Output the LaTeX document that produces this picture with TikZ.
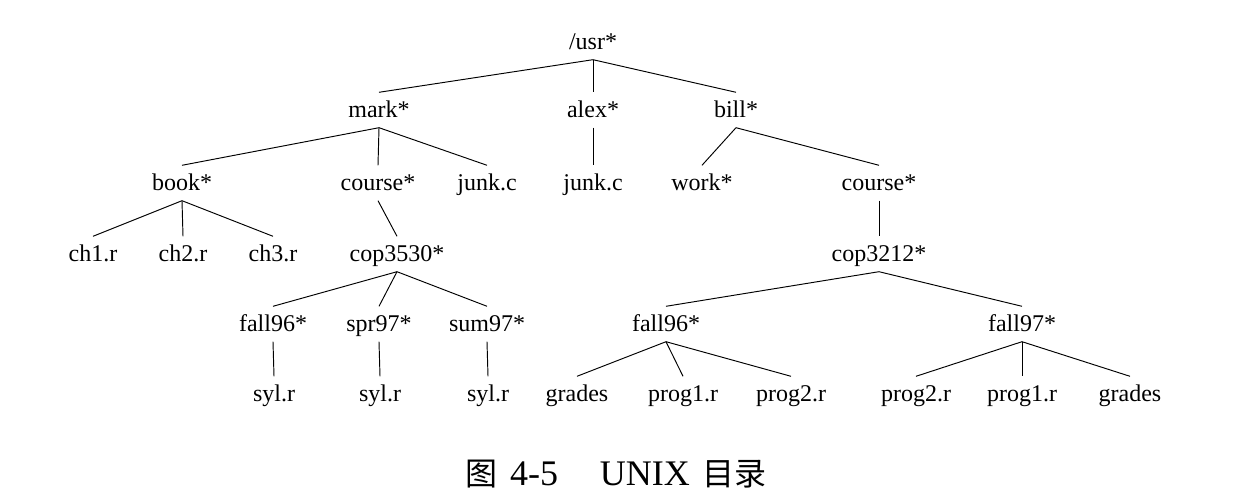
\documentclass[tikz,border=0pt]{standalone}
\usepackage{fontspec}
\setmainfont{Liberation Serif}
\newfontfamily\cjk{Noto Sans CJK SC}
\tikzset{
    dnode/.style={inner sep=0pt,minimum height=35pt,text height=19pt,text depth=3pt,font=\fontsize{24}{28}\selectfont},
    figcap/.style={inner sep=0pt,font=\fontsize{36}{40}\selectfont},
    tree/.style={
        x=1pt, y=-1pt,
        every node/.style=dnode,
        every edge/.style={draw,line width=0.95pt},
    }
}
\begin{document}
\begin{tikzpicture}[tree]
\useasboundingbox (0,0) rectangle (1245,502);
\def\la{42}
\def\lb{110}
\def\lc{183}
\def\ld{254}
\def\le{324}
\def\lf{394}
\node (usr) at (593,\la) {/usr*};
\node (mark) at (379,\lb) {mark*};
\node (alex) at (593,\lb) {alex*};
\node (bill) at (736,\lb) {bill*};
\node (book) at (182,\lc) {book*};
\node (mcourse) at (378,\lc) {course*};
\node (mjunk) at (487,\lc) {junk.c};
\node (ajunk) at (593,\lc) {junk.c};
\node (work) at (702,\lc) {work*};
\node (bcourse) at (879,\lc) {course*};
\node (ch1) at (93,\ld) {ch1.r};
\node (ch2) at (183,\ld) {ch2.r};
\node (ch3) at (273,\ld) {ch3.r};
\node (cop3530) at (397,\ld) {cop3530*};
\node (cop3212) at (879,\ld) {cop3212*};
\node (mfall96) at (273,\le) {fall96*};
\node (spr97) at (379,\le) {spr97*};
\node (sum97) at (487,\le) {sum97*};
\node (bfall96) at (666,\le) {fall96*};
\node (fall97) at (1022,\le) {fall97*};
\node (syla) at (274,\lf) {syl.r};
\node (sylb) at (380,\lf) {syl.r};
\node (sylc) at (488,\lf) {syl.r};
\node (gradesa) at (577,\lf) {grades};
\node (progla) at (683,\lf) {prog1.r};
\node (prog2a) at (791,\lf) {prog2.r};
\node (prog2b) at (916,\lf) {prog2.r};
\node (proglb) at (1022,\lf) {prog1.r};
\node (gradesb) at (1130,\lf) {grades};
\node[figcap] (fig) at (616,477) {{\cjk\fontsize{32}{36}\selectfont 图}\hspace{13pt}4-5\hspace{42pt}UNIX\hspace{13pt}{\cjk\fontsize{32}{36}\selectfont 目录}};
\path
    (usr.south) edge (mark.north)
    (usr.south) edge (alex.north)
    (usr.south) edge (bill.north)
    (mark.south) edge (book.north)
    (mark.south) edge (mcourse.north)
    (mark.south) edge (mjunk.north)
    (alex.south) edge (ajunk.north)
    (bill.south) edge (work.north)
    (bill.south) edge (bcourse.north)
    (book.south) edge (ch1.north)
    (book.south) edge (ch2.north)
    (book.south) edge (ch3.north)
    (mcourse.south) edge (cop3530.north)
    (bcourse.south) edge (cop3212.north)
    (cop3530.south) edge (mfall96.north)
    (cop3530.south) edge (spr97.north)
    (cop3530.south) edge (sum97.north)
    (cop3212.south) edge (bfall96.north)
    (cop3212.south) edge (fall97.north)
    (mfall96.south) edge (syla.north)
    (spr97.south) edge (sylb.north)
    (sum97.south) edge (sylc.north)
    (bfall96.south) edge (gradesa.north)
    (bfall96.south) edge (progla.north)
    (bfall96.south) edge (prog2a.north)
    (fall97.south) edge (prog2b.north)
    (fall97.south) edge (proglb.north)
    (fall97.south) edge (gradesb.north)
;
\end{tikzpicture}
\end{document}
